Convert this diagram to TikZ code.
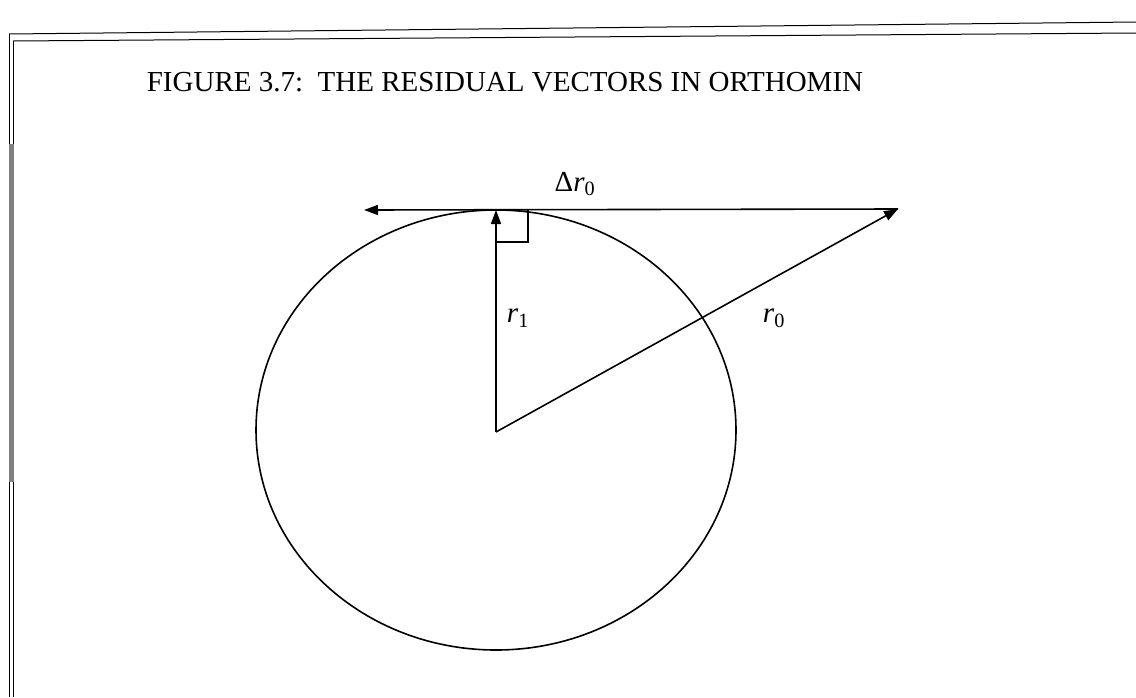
\documentclass[tikz,border=0pt]{standalone}
\usepackage{fontspec}
\setmainfont{Liberation Serif}
\usepackage{tikz}
\usetikzlibrary{arrows.meta, calc}

\begin{document}
\begin{tikzpicture}[x=1pt, y=-1pt, line width=1.6pt,
    >={Triangle[length=14pt, width=10pt]},
    vec/.style={->, line width=1.6pt},
    lbl/.style={font=\fontsize{29}{31}\selectfont}]
    \useasboundingbox (0,0) rectangle (1136,697);

    % 1. Khung (bien trai va tren)
    \draw[line width=1pt] (9,34) -- (1136,22);
    \draw[line width=1pt] (13,41) -- (1136,33);
    \draw[line width=1pt] (9,34) -- (9,697);
    \draw[line width=1pt] (13,41) -- (13,697);
    \draw[gray, line width=5pt] (11,144) -- (11,482);

    % 2. Tieu de
    \node[font=\fontsize{29}{32}\selectfont] (title) at (505,82)
        {FIGURE 3.7:\ \ THE RESIDUAL VECTORS IN ORTHOMIN};

    % 3. Cac diem
    \coordinate (O) at (496,432);
    \coordinate (A) at (496,210);
    \coordinate (B) at (898,209);
    \coordinate (C) at (364,210);

    % 4. Elip
    \draw (496,430) ellipse (240 and 220);

    % 5. Cac vecto
    \draw[vec] (O) -- (A);
    \draw[vec] (O) -- (B);
    \draw[vec] (B) -- (C);

    % Goc vuong
    \draw[line width=1.4pt] (A) ++(32,0) -- ++(0,32) -- ++(-32,0);

    % 6. Nhan
    \node[lbl] (dr) at (575,184) {Δ\textit{r}\textsubscript{0}};
    \node[lbl] (ra) at (518,318) {\textit{r}\textsubscript{1}};
    \node[lbl] (rb) at (774,318) {\textit{r}\textsubscript{0}};
\end{tikzpicture}
\end{document}
